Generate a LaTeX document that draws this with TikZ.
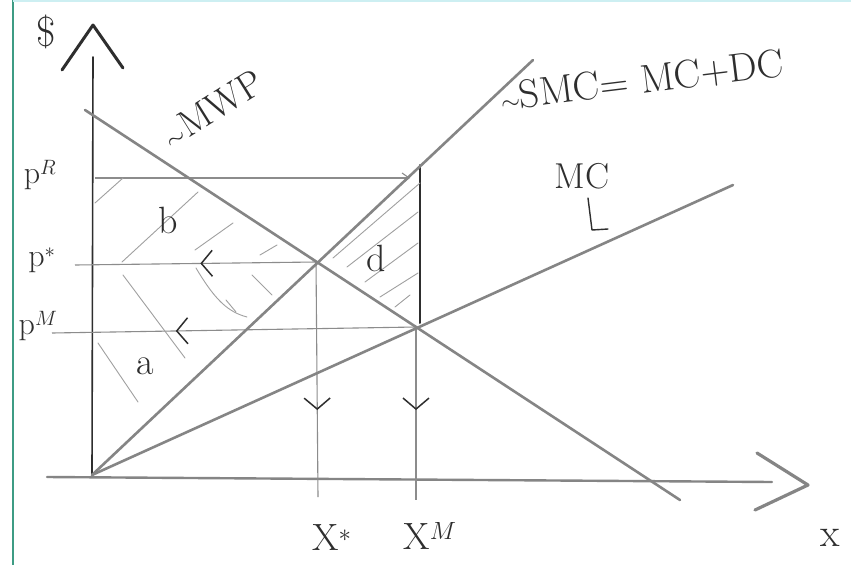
\documentclass[tikz,border=0pt]{standalone}
\usetikzlibrary{arrows.meta,decorations.markings}
\definecolor{curvegray}{HTML}{858585}
\definecolor{guidegray}{HTML}{8C8C8C}
\definecolor{hatchgray}{HTML}{A0A0A0}
\definecolor{ink}{HTML}{2E2E2E}
\definecolor{margin}{HTML}{3E9C84}
\definecolor{topline}{HTML}{CDEFF2}
\begin{document}
\begin{tikzpicture}[x=1pt,y=-1pt,
  curve/.style={draw=curvegray, line width=2.6pt, line cap=round},
  axisx/.style={draw=curvegray, line width=2.4pt, line cap=round},
  axisy/.style={draw=ink, line width=1.6pt, line cap=round},
  guide/.style={draw=guidegray, line width=1.1pt},
  hatch/.style={draw=hatchgray, line width=0.9pt, line cap=round},
  inkline/.style={draw=ink, line width=1.8pt, line cap=round, line join=round},
  lbl/.style={text=ink, font=\fontsize{32}{34}\selectfont, inner sep=0pt},
  midarrow/.style={postaction={decorate}, decoration={markings, mark=at position #1 with {\arrow[ink]{Straight Barb[length=11pt,width=26pt,line width=1.5pt]}}}}
]
\useasboundingbox (0,0) rectangle (851,565);
\fill[white] (0,0) rectangle (851,565);
% page margin lines
\draw[margin, line width=1.2pt] (13,0) -- (13,565);
\draw[topline, line width=2pt] (13,1) -- (851,1);

% key points
\coordinate (O) at (92,475);
\coordinate (Ytop) at (93,57);
\coordinate (Xleft) at (47,477);
\coordinate (Xright) at (772,482);
\coordinate (Ya) at (62,70); \coordinate (Yb) at (93,25); \coordinate (Yc) at (123,68);
\coordinate (Xa) at (757,453); \coordinate (Xb) at (808,485); \coordinate (Xc) at (755,510);
\coordinate (Dtop) at (85,110);
\coordinate (Dend) at (680,500);
\coordinate (Send) at (533,60);
\coordinate (Mend) at (733,185);
\coordinate (Pstar) at (316,262);
\coordinate (PM) at (416,327);
\coordinate (PRleft) at (95,178);
\coordinate (PRright) at (410,178);
\coordinate (PKleft) at (75,265);
\coordinate (PMleft) at (52,333);
\coordinate (XsBot) at (318,497);
\coordinate (XmBot) at (416,500);
\coordinate (Btop) at (420,165);
\coordinate (Bbot) at (420,323);

% axes
\draw[axisy] (O) -- (Ytop);
\draw[inkline, line width=3pt] (Ya) -- (Yb) -- (Yc);
\draw[axisx] (Xleft) -- (Xright);
\draw[draw=curvegray, line width=3.2pt, line cap=round, line join=round] (Xa) -- (Xb) -- (Xc);

% guide lines
\draw[guide, -{Straight Barb[length=7pt,width=10pt]}] (PRleft) -- (PRright);
\draw[guide, midarrow=0.48] (Pstar) -- (PKleft);
\draw[guide, midarrow=0.66] (PM) -- (PMleft);
\draw[guide, midarrow=0.63] (Pstar) -- (XsBot);
\draw[guide, midarrow=0.48] (PM) -- (XmBot);
\draw[inkline, line width=2pt] (Btop) -- (Bbot);

% hatching region b
\draw[hatch] (95,203) -- (123,178);
\draw[hatch] (122,262) -- (198,192);
\draw[hatch] (195,250) -- (233,223);
\draw[hatch] (260,255) -- (277,245);
% hatching region a
\draw[hatch] (123,275) -- (185,358);
\draw[hatch] (196,268) .. controls (215,300) and (228,312) .. (247,317);
\draw[hatch] (252,275) -- (272,295);
\draw[hatch] (98,343) -- (138,402);
\draw[hatch] (226,300) -- (236,312);
% hatching region d
\draw[hatch] (333,258) -- (420,183);
\draw[hatch] (347,267) -- (418,212);
\draw[hatch] (365,282) -- (418,243);
\draw[hatch] (380,297) -- (418,273);
\draw[hatch] (395,307) -- (410,295);

% curves
\draw[curve] (Dtop) -- (Dend);
\draw[curve] (O) -- (Send);
\draw[curve] (O) -- (Mend);

% MC pointer
\coordinate (Ha) at (588,198); \coordinate (Hb) at (592,230); \coordinate (Hc) at (608,229);
\draw[inkline, line width=1.4pt] (Ha) -- (Hb) -- (Hc);

% labels
\node[lbl, font=\fontsize{42}{44}\selectfont] (dol) at (46,32) {\$};
\node[lbl] (pR) at (40,175) {p$^{R}$};
\node[lbl] (pK) at (42,260) {p$^{*}$};
\node[lbl] (pMl) at (38,326) {p$^{M}$};
\node[lbl, font=\fontsize{38}{40}\selectfont] (b) at (168,220) {b};
\node[lbl, font=\fontsize{38}{40}\selectfont] (d) at (376,258) {d};
\node[lbl, font=\fontsize{38}{40}\selectfont] (a) at (145,366) {a};
\node[lbl, font=\fontsize{38}{40}\selectfont] (xs) at (332,538) {X$^{*}$};
\node[lbl, font=\fontsize{38}{40}\selectfont] (xm) at (430,536) {X$^{M}$};
\node[lbl, font=\fontsize{40}{42}\selectfont] (xl) at (830,538) {x};
\node[lbl, font=\fontsize{38}{40}\selectfont, rotate=32, anchor=south west] (mwp) at (172,150) {$\sim$MWP};
\node[lbl, font=\fontsize{40}{42}\selectfont, rotate=7, anchor=west] (smc) at (500,98) {$\sim$SMC= MC+DC};
\node[lbl, font=\fontsize{36}{38}\selectfont] (mc) at (582,176) {MC};
\end{tikzpicture}
\end{document}
